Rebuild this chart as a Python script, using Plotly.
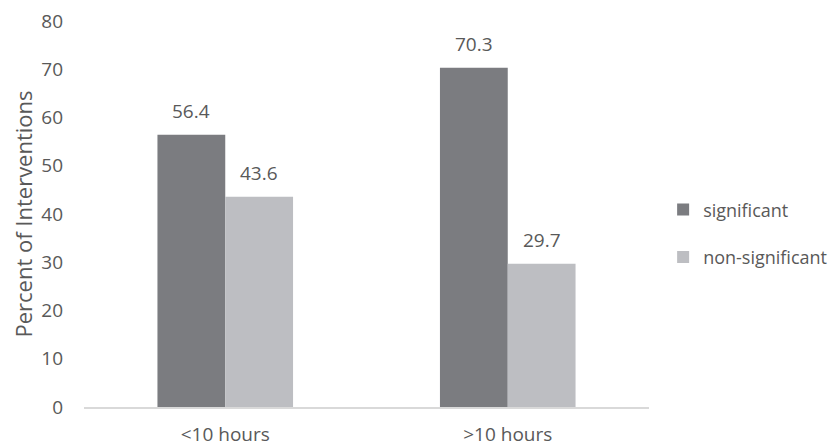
import plotly.graph_objects as go

categories = ["<10 hours", ">10 hours"]
significant = [56.4, 70.3]
non_significant = [43.6, 29.7]
series_names = ["significant", "non-significant"]
colors = ["#7b7c80", "#bdbec2"]
y_ticks = [0, 10, 20, 30, 40, 50, 60, 70, 80]

FONT = "Open Sans"
TXT = "#595959"
FS = 19

fig = go.Figure()
for name, vals, col in zip(series_names, [significant, non_significant], colors):
    fig.add_trace(go.Bar(x=categories, y=vals, name=name, marker_color=col,
                         marker_line_width=0, legendgroup=name))

# page has an 8px body margin, so the figure margins are offset accordingly
L, R, T, B = 76, 199, 13, 46
W = 840 - L - R
bargap = 0.52
cat_w = W / len(categories)
bar_w = cat_w * (1 - bargap) / 2
for i, (name, vals) in enumerate(zip(series_names, [significant, non_significant])):
    shift = (i - 0.5) * bar_w
    for c, v in zip(categories, vals):
        fig.add_annotation(x=c, y=v, text=f"{v:.1f}", showarrow=False,
                           xshift=shift, yshift=24, yanchor="middle",
                           font=dict(family=FONT, size=FS, color=TXT))

fig.update_layout(
    width=840, height=445,
    margin=dict(l=L, r=R, t=T, b=B, autoexpand=False),
    paper_bgcolor="white", plot_bgcolor="white",
    barmode="group", bargap=bargap, bargroupgap=0,
    font=dict(family=FONT, size=FS, color=TXT),
    showlegend=True,
    legend=dict(x=1.025, xanchor="left", y=0.45, yanchor="middle",
                font=dict(family=FONT, size=18, color=TXT),
                tracegroupgap=21, bgcolor="rgba(0,0,0,0)"),
    xaxis=dict(showline=True, linecolor="#d9d9d9", linewidth=1.5,
               showgrid=False, ticks="", ticklabelstandoff=9, automargin=False,
               ticklabeloverflow="allow",
               tickfont=dict(family=FONT, size=FS, color=TXT)),
    yaxis=dict(range=[0, 80], tickvals=y_ticks, showgrid=False, showline=False,
               zeroline=False, ticks="", ticklabelstandoff=20, automargin=False,
               ticklabeloverflow="allow",
               tickfont=dict(family=FONT, size=FS, color=TXT),
               title=dict(text="Percent of Interventions", standoff=12,
                          font=dict(family=FONT, size=22, color=TXT))),
)

fig.write_html("out.html")
